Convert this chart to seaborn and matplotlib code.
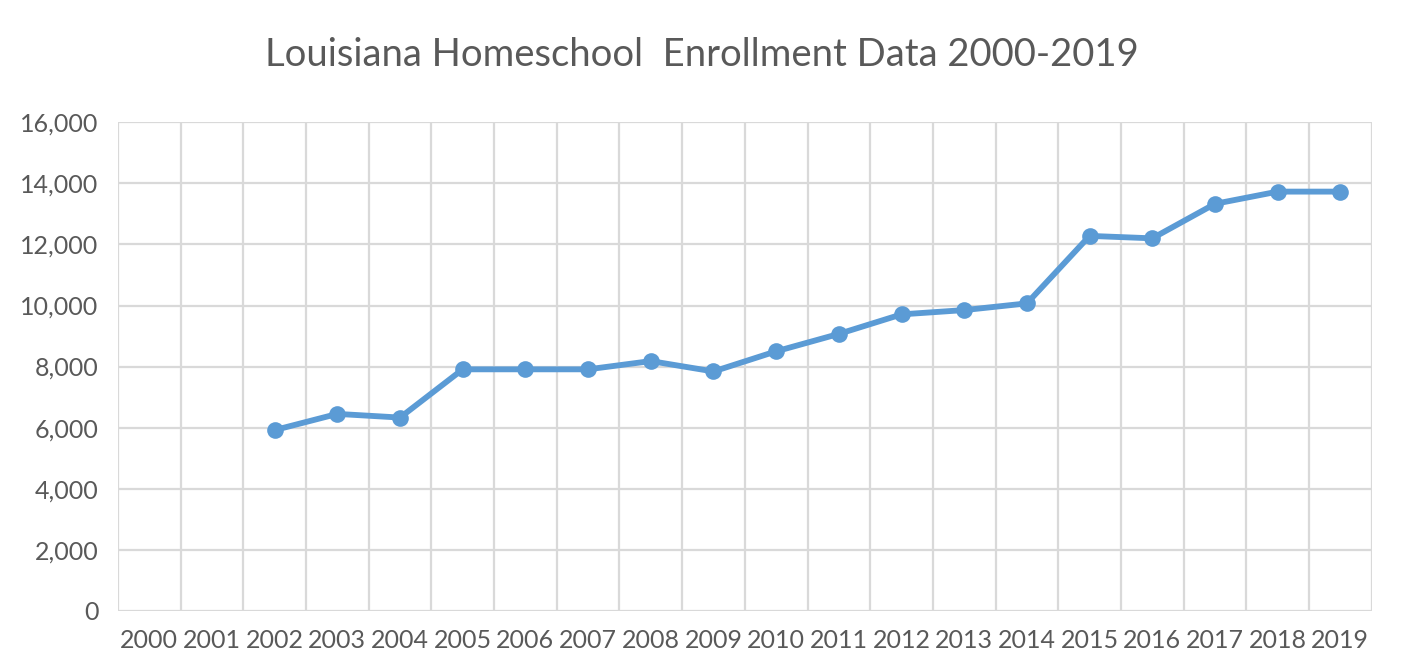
import numpy as np
import pandas as pd
import matplotlib
matplotlib.use("Agg")
import matplotlib.pyplot as plt
import seaborn as sns

# %% Data
years = [str(y) for y in range(2000, 2020)]
enrollment = [np.nan, np.nan, 5920, 6450, 6330, 7910, 7910, 7910, 8180, 7840,
              8500, 9070, 9710, 9850, 10070, 12280, 12200, 13330, 13730, 13730]

df = pd.DataFrame({"pos": np.arange(len(years)), "year": years, "enrollment": enrollment})

# %% Style
sns.set_theme(style="white")
plt.rcParams['font.family'] = ['Lato', 'DejaVu Sans']
text_col = '#595959'
grid_col = '#D9D9D9'
line_col = '#5B9BD5'

fig = plt.figure(figsize=(14.04, 6.72), dpi=100)
ax = fig.add_axes([0.084, 0.091, 0.893, 0.727])

sns.lineplot(data=df, x="pos", y="enrollment", ax=ax, color=line_col,
             linewidth=4.2, marker='o', markersize=12, markeredgewidth=0,
             legend=False)

# category axis: labels at centres, gridlines at the boundaries
ax.set_xlim(-0.5, len(years) - 0.5)
ax.set_xticks(df["pos"])
ax.set_xticklabels(years)
ax.set_xticks(np.arange(-0.5, len(years), 1), minor=True)
ax.grid(which='minor', axis='x', color=grid_col, linewidth=1.6)
ax.grid(which='major', axis='x', visible=False)

ax.set_ylim(0, 16000)
ax.set_yticks(np.arange(0, 16001, 2000))
ax.set_yticklabels([f"{v:,}" for v in range(0, 16001, 2000)])
ax.grid(which='major', axis='y', color=grid_col, linewidth=1.6)
ax.set_axisbelow(True)

ax.tick_params(axis='both', which='both', length=0, labelsize=18, colors=text_col)
ax.tick_params(axis='x', pad=13)
ax.tick_params(axis='y', pad=14)

ax.set_xlabel("")
ax.set_ylabel("")
sns.despine(ax=ax, left=True, bottom=True, top=True, right=True)

fig.text(0.5, 0.918, "Louisiana Homeschool  Enrollment Data 2000-2019",
         ha='center', va='center', fontsize=27.5, color=text_col)

fig.savefig("out.png", dpi=100)
